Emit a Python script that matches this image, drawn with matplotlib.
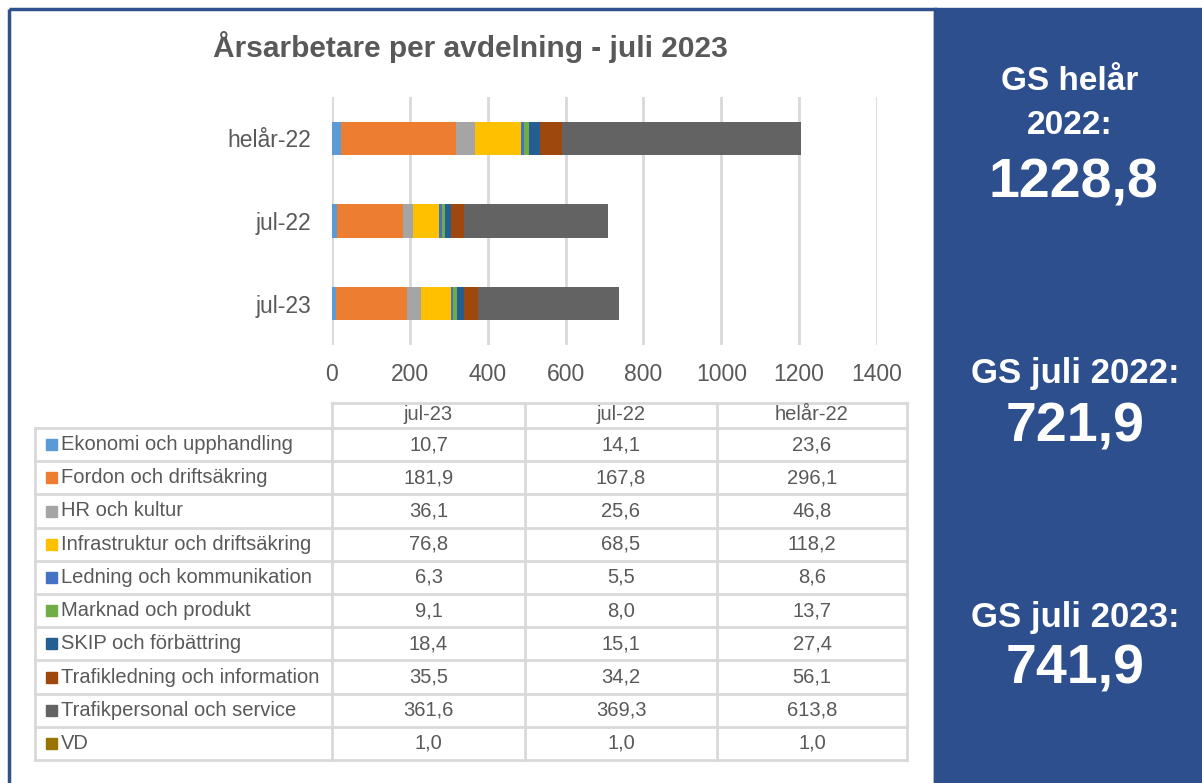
import matplotlib.pyplot as plt
from matplotlib.patches import Rectangle

plt.rcParams['font.family'] = ['Liberation Sans', 'DejaVu Sans']

# data
periods = ['jul-23', 'jul-22', 'helår-22']
departments = ['Ekonomi och upphandling', 'Fordon och driftsäkring', 'HR och kultur',
               'Infrastruktur och driftsäkring', 'Ledning och kommunikation',
               'Marknad och produkt', 'SKIP och förbättring',
               'Trafikledning och information', 'Trafikpersonal och service', 'VD']
jul23 = [10.7, 181.9, 36.1, 76.8, 6.3, 9.1, 18.4, 35.5, 361.6, 1.0]
jul22 = [14.1, 167.8, 25.6, 68.5, 5.5, 8.0, 15.1, 34.2, 369.3, 1.0]
helar22 = [23.6, 296.1, 46.8, 118.2, 8.6, 13.7, 27.4, 56.1, 613.8, 1.0]
colors = ['#5B9BD5', '#ED7D31', '#A5A5A5', '#FFC000', '#4472C4',
          '#70AD47', '#255E91', '#9E480E', '#636363', '#997300']

W, H = 1202, 783
fig = plt.figure(figsize=(W / 100, H / 100), dpi=100)
txt = '#595959'

# background canvas in pixel coords
bg = fig.add_axes([0, 0, 1, 1])
bg.set_xlim(0, W)
bg.set_ylim(H, 0)
bg.axis('off')
bg.add_patch(Rectangle((9, 9), 926, 790, fill=False, ec='#2F528F', lw=2.5))
bg.add_patch(Rectangle((934, 8), W - 934, H, color='#2E4F8E'))

bg.text(470, 47, 'Årsarbetare per avdelning - juli 2023', ha='center', va='center',
        fontsize=21.5, fontweight='bold', color=txt)

# side panel
big = dict(ha='center', va='center', color='white', fontweight='bold')
bg.text(1070, 82, 'GS helår', fontsize=24, **big)
bg.text(1070, 126, '2022:', fontsize=24, **big)
bg.text(1073, 183, '1228,8', fontsize=40, **big)
bg.text(1075, 373, 'GS juli 2022:', fontsize=25, **big)
bg.text(1075, 427, '721,9', fontsize=40, **big)
bg.text(1075, 617, 'GS juli 2023:', fontsize=25, **big)
bg.text(1075, 670, '741,9', fontsize=40, **big)

# bar chart
ax = fig.add_axes([332 / W, 1 - 345 / H, (877 - 332) / W, (345 - 97) / H])
series = [jul23, jul22, helar22]
left = [0.0] * 3
for i, dep in enumerate(departments):
    vals = [s[i] for s in series]
    ax.barh(range(3), vals, left=left, height=0.4, color=colors[i], label=dep)
    left = [l + v for l, v in zip(left, vals)]
ax.set_xlim(0, 1400)
ax.set_ylim(-0.5, 2.5)
ax.set_yticks(range(3))
ax.set_yticklabels(periods)
ax.set_xticks(range(0, 1401, 200))
ax.tick_params(length=0, labelsize=16.5, labelcolor=txt)
ax.tick_params(axis='y', pad=15)
ax.tick_params(axis='x', pad=13)
ax.grid(axis='x', color='#D9D9D9', lw=2)
ax.set_axisbelow(True)
for s in ax.spines.values():
    s.set_visible(False)

# data table
col_x = [35, 332, 525, 717, 907]
row_top = 428
row_h = 33.2
gc = '#D9D9D9'
bg.plot([332, 907], [403, 403], color=gc, lw=2)
for x in col_x[1:]:
    bg.plot([x, x], [403, row_top + row_h * 10], color=gc, lw=2)
bg.plot([35, 35], [row_top, row_top + row_h * 10], color=gc, lw=2)
for r in range(11):
    y = row_top + r * row_h
    bg.plot([35, 907], [y, y], color=gc, lw=2)
for j, p in enumerate(periods):
    bg.text((col_x[j + 1] + col_x[j + 2]) / 2, 415, p, ha='center', va='center',
            fontsize=14.5, color=txt)
for r, dep in enumerate(departments):
    yc = row_top + r * row_h + row_h / 2
    bg.add_patch(Rectangle((46, yc - 5.5), 11, 11, color=colors[r]))
    bg.text(61, yc, dep, ha='left', va='center', fontsize=14.5, color=txt)
    for j, s in enumerate(series):
        val = f'{s[r]:.1f}'.replace('.', ',')
        bg.text((col_x[j + 1] + col_x[j + 2]) / 2, yc, val, ha='center', va='center',
                fontsize=14.5, color=txt)

fig.savefig('out.png', dpi=100)
